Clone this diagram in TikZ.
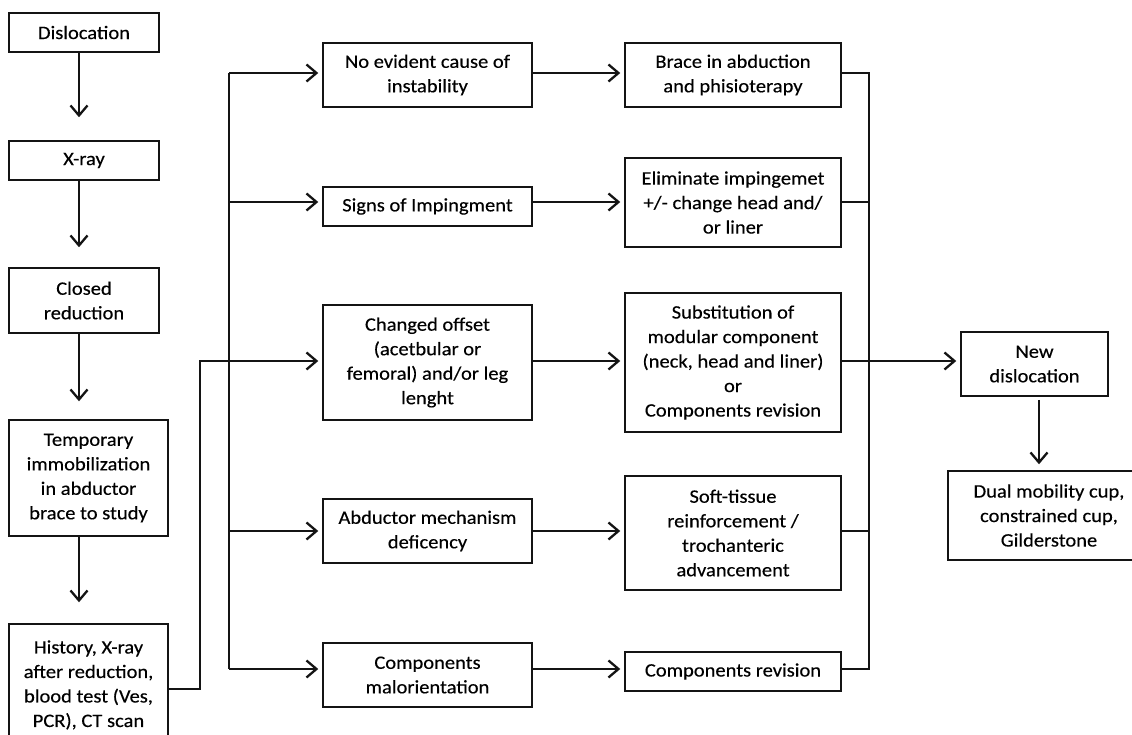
\documentclass[tikz,border=0pt]{standalone}
\usepackage{fontspec}
\setmainfont{Carlito}[FakeStretch=1.08,FakeBold=0.3]
\usetikzlibrary{arrows.meta}
\begin{document}
\begin{tikzpicture}[x=1pt,y=-1pt,
  box/.style={draw=black!92, line width=1.5pt, align=center, inner sep=0pt,
    text=black, font=\fontsize{19}{24.5}\selectfont},
  arr/.style={draw=black!92, line width=1.5pt, -{Straight Barb[length=10pt,width=17pt,line width=2.3pt]}},
  ln/.style={draw=black!92, line width=1.5pt}]
\useasboundingbox (0,0) rectangle (1132,735);
\fill[white] (0,0) rectangle (1132,735);

% left column
\node[box, minimum width=150pt, minimum height=39pt] (dis) at (84,32.5) {Dislocation};
\node[box, minimum width=150pt, minimum height=39pt] (xray) at (84,160.5) {X-ray};
\node[box, minimum width=150pt, minimum height=65pt] (closed) at (84,300.5) {Closed\\reduction};
\node[box, minimum width=159pt, minimum height=116pt] (temp) at (88.5,478) {Temporary\\immobilization\\in abductor\\brace to study};
\node[box, minimum width=159pt, minimum height=122pt] (hist) at (88.5,685) {History, X-ray\\after reduction,\\blood test (Ves,\\PCR), CT scan};

% middle column
\node[box, minimum width=209pt, minimum height=64pt] (noev) at (427.5,75) {No evident cause of\\instability};
\node[box, minimum width=209pt, minimum height=39pt] (signs) at (427.5,206.5) {Signs of Impingment};
\node[box, minimum width=209pt, minimum height=115pt] (changed) at (427.5,362.5) {Changed offset\\(acetbular or\\femoral) and/or leg\\lenght};
\node[box, minimum width=209pt, minimum height=64pt] (abd) at (427.5,531) {Abductor mechanism\\deficency};
\node[box, minimum width=209pt, minimum height=64pt] (malor) at (427.5,675) {Components\\malorientation};

% right column
\node[box, minimum width=216pt, minimum height=64pt] (brace) at (733,75) {Brace in abduction\\and phisioterapy};
\node[box, minimum width=216pt, minimum height=89pt] (elim) at (733,202.5) {Eliminate impingemet\\+/- change head and/\\or liner};
\node[box, minimum width=216pt, minimum height=139pt] (subst) at (733,362.5) {Substitution of\\modular component\\(neck, head and liner)\\or\\Components revision};
\node[box, minimum width=216pt, minimum height=114pt] (soft) at (733,533) {Soft-tissue\\reinforcement /\\trochanteric\\advancement};
\node[box, minimum width=216pt, minimum height=39pt] (comprev) at (733,671.5) {Components revision};

% far right
\node[box, minimum width=147pt, minimum height=64pt] (newd) at (1034.5,364) {New\\dislocation};
\node[box, minimum width=202pt, minimum height=89pt] (dual) at (1049,515.5) {Dual mobility cup,\\constrained cup,\\Gilderstone};

% left column arrows
\coordinate (colx) at (79,0);
\draw[arr, shorten >=23pt] (dis.south -| colx) -- (xray.north -| colx);
\draw[arr, shorten >=20pt] (xray.south -| colx) -- (closed.north -| colx);
\draw[arr, shorten >=18pt] (closed.south -| colx) -- (temp.north -| colx);
\draw[arr, shorten >=21pt] (temp.south -| colx) -- (hist.north -| colx);

% trunk and branches
\coordinate (t1) at (229,73);
\coordinate (t2) at (229,202);
\coordinate (t3) at (200,361);
\coordinate (t4) at (229,531);
\coordinate (t5) at (229,669);
\coordinate (h0) at (200,689);
\draw[ln] (t1) -- (t5);
\draw[arr, shorten >=4pt] (t1) -- (noev.west |- t1);
\draw[arr, shorten >=4pt] (t2) -- (signs.west |- t2);
\draw[arr, shorten >=4pt] (t4) -- (abd.west |- t4);
\draw[arr, shorten >=4pt] (t5) -- (malor.west |- t5);
\draw[arr, shorten >=4pt] (hist.east |- h0) -- (h0) -- (t3) -- (changed.west |- t3);

% middle to right
\draw[arr, shorten >=4pt] (noev.east |- t1) -- (brace.west |- t1);
\draw[arr, shorten >=4pt] (signs.east |- t2) -- (elim.west |- t2);
\draw[arr, shorten >=4pt] (changed.east |- t3) -- (subst.west |- t3);
\draw[arr, shorten >=4pt] (abd.east |- t4) -- (soft.west |- t4);
\draw[arr, shorten >=4pt] (malor.east |- t5) -- (comprev.west |- t5);

% merge
\coordinate (m1) at (869,73);
\coordinate (m2) at (869,202);
\coordinate (m3) at (869,361);
\coordinate (m4) at (869,531);
\coordinate (m5) at (869,669);
\draw[ln] (brace.east |- m1) -- (m1) -- (m5) -- (comprev.east |- m5);
\draw[ln] (elim.east |- m2) -- (m2);
\draw[ln] (soft.east |- m4) -- (m4);
\draw[arr, shorten >=4pt] (subst.east |- m3) -- (newd.west |- m3);

% new dislocation to dual
\coordinate (dx) at (1039,0);
\draw[arr, shorten >=6pt, shorten <=3pt] (newd.south -| dx) -- (dual.north -| dx);
\end{tikzpicture}
\end{document}
